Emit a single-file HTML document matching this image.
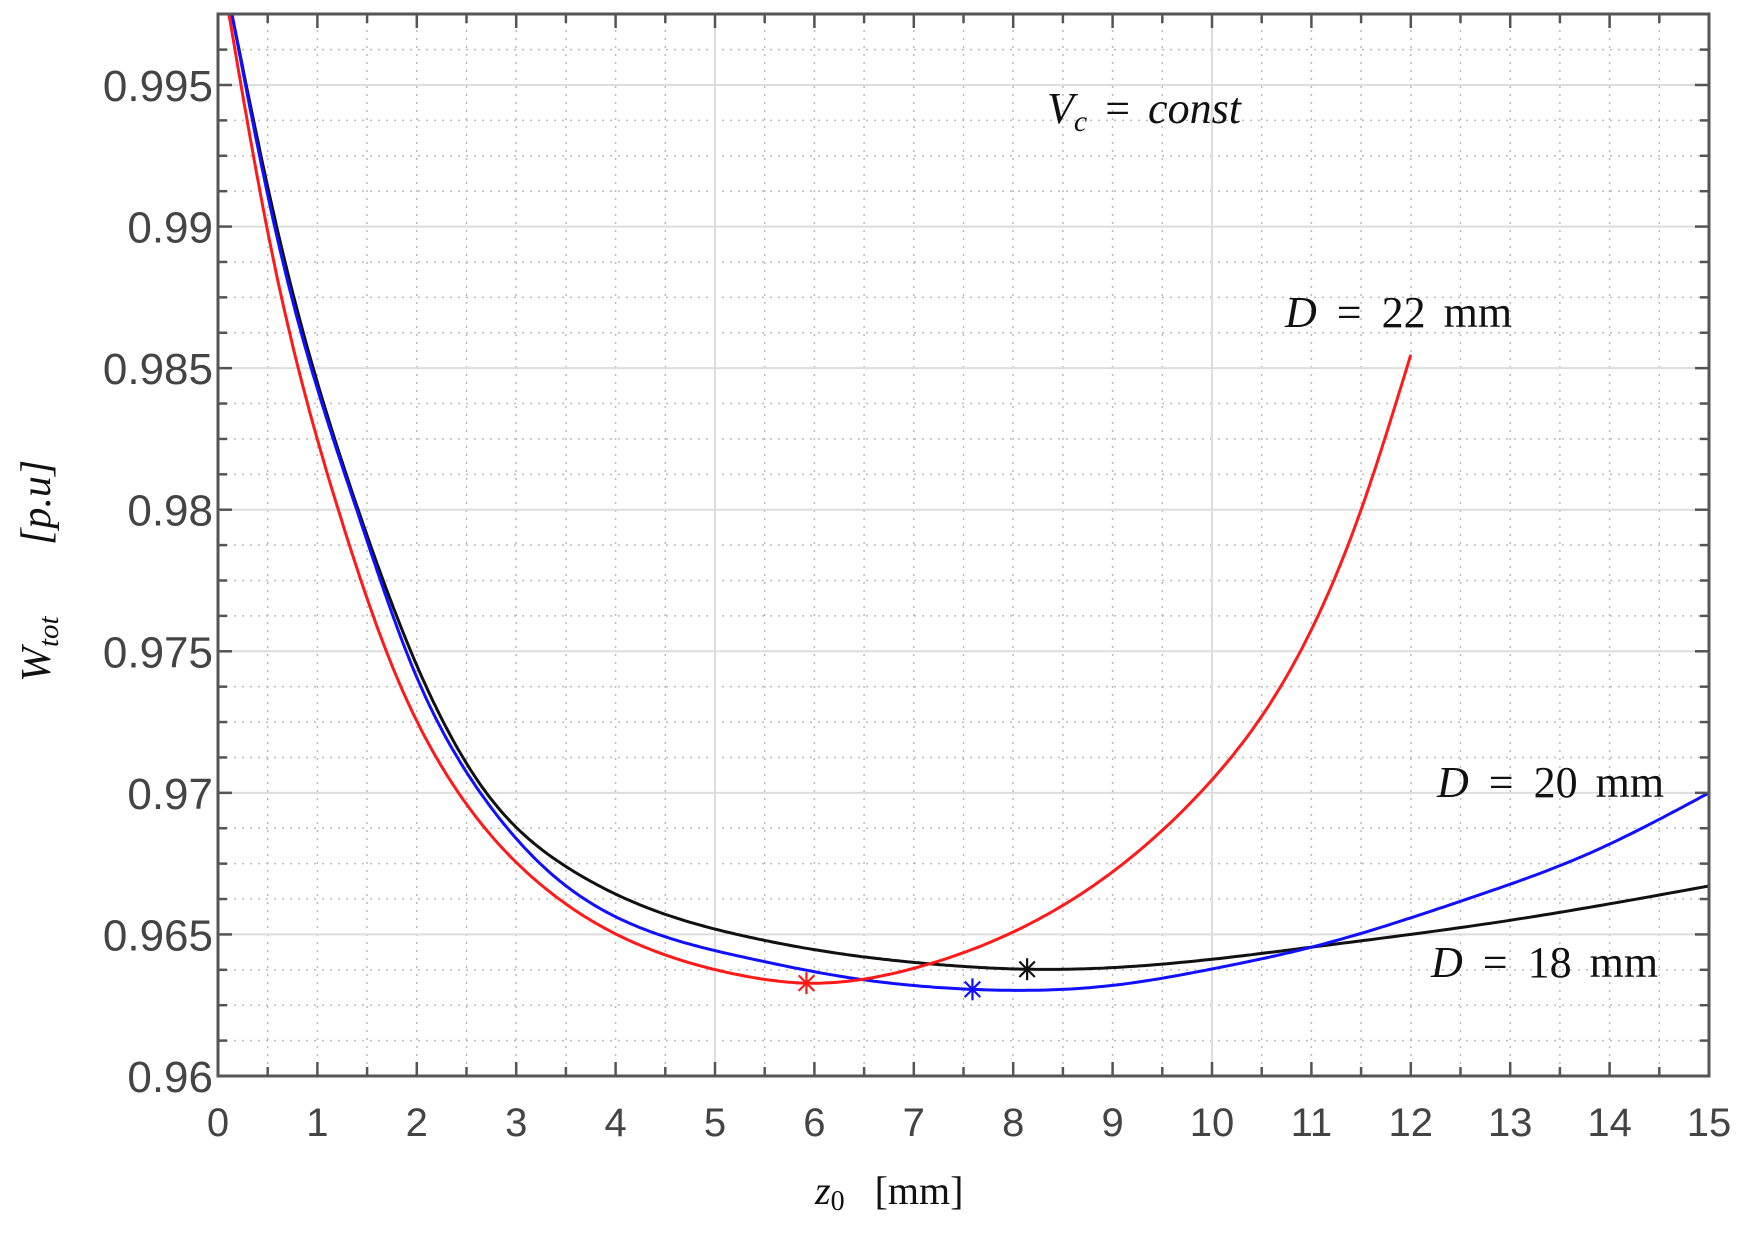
<!DOCTYPE html>
<html><head><meta charset="utf-8"><style>
html,body{margin:0;padding:0;background:#fff;}
svg{display:block;}
</style></head><body>
<svg id="s" width="1749" height="1234" xmlns="http://www.w3.org/2000/svg">
<rect width="1749" height="1234" fill="#fff"/>
<g id="grid"></g>
<g id="curves" fill="none" stroke-width="3"></g>
<g id="axes"></g>
<g font-family="Liberation Serif, serif" font-size="44" fill="#111">
<text x="1047" y="123"><tspan font-style="italic">V</tspan><tspan font-style="italic" font-size="30" dy="8">c</tspan><tspan dy="-8" dx="18">=</tspan><tspan dx="18" font-style="italic">const</tspan></text>
<text x="1285" y="327"><tspan font-style="italic">D</tspan><tspan dx="20">=</tspan><tspan dx="20">22</tspan><tspan dx="18">mm</tspan></text>
<text x="1437" y="797"><tspan font-style="italic">D</tspan><tspan dx="20">=</tspan><tspan dx="20">20</tspan><tspan dx="18">mm</tspan></text>
<text x="1431" y="977"><tspan font-style="italic">D</tspan><tspan dx="20">=</tspan><tspan dx="20">18</tspan><tspan dx="18">mm</tspan></text>
<text x="815" y="1204" font-size="40"><tspan font-style="italic">z</tspan><tspan font-size="28" dy="6">0</tspan><tspan dy="-6" dx="30">[mm]</tspan></text>
<g transform="translate(50,682) rotate(-90)" font-size="42">
<text x="0" y="0"><tspan font-style="italic">W</tspan><tspan font-style="italic" font-size="29" dy="8">tot</tspan></text>
<text x="137" y="0" font-style="italic">[p.u]</text>
</g>
</g>
</svg>
<script>
var NS="http://www.w3.org/2000/svg";
var X0=218,X1=1709,Y0=14,Y1=1076;
function px(x){return X0+x*(X1-X0)/15;}
function py(v){return 85+(0.995-v)/0.005*141.57;}
function el(p,t,a){var e=document.createElementNS(NS,t);for(var k in a)e.setAttribute(k,a[k]);p.appendChild(e);return e;}
var g=document.getElementById('grid'),ax=document.getElementById('axes'),cv=document.getElementById('curves');
for(var i=1;i<30;i++){var x=px(i*0.5);if(i%10)el(g,'line',{x1:x,x2:x,y1:Y0,y2:Y1,stroke:'#bbb','stroke-width':1.5,'stroke-dasharray':'2 6'});}
for(var k=1;k<30;k++){var v=0.96+k*0.00125;if(v>0.9976)break;var y=py(v);if(k%4)el(g,'line',{x1:X0,x2:X1,y1:y,y2:y,stroke:'#bbb','stroke-width':1.5,'stroke-dasharray':'2 6'});}
[5,10].forEach(function(m){var x=px(m);el(g,'line',{x1:x,x2:x,y1:Y0,y2:Y1,stroke:'#ddd','stroke-width':2});});
for(var k=1;k<8;k++){var y=py(0.96+k*0.005);el(g,'line',{x1:X0,x2:X1,y1:y,y2:y,stroke:'#ddd','stroke-width':2});}
function spline(pts){var n=pts.length,x=pts.map(p=>p[0]),y=pts.map(p=>p[1]);
var h=[],al=[],l=[1],mu=[0],z=[0],c=new Array(n).fill(0),b=[],d=[];
for(var i=0;i<n-1;i++)h[i]=x[i+1]-x[i];
for(var i=1;i<n-1;i++)al[i]=3/h[i]*(y[i+1]-y[i])-3/h[i-1]*(y[i]-y[i-1]);
for(var i=1;i<n-1;i++){l[i]=2*(x[i+1]-x[i-1])-h[i-1]*mu[i-1];mu[i]=h[i]/l[i];z[i]=(al[i]-h[i-1]*z[i-1])/l[i];}
for(var j=n-2;j>=0;j--){c[j]=(j>0?z[j]:0)-mu[j]*c[j+1];b[j]=(y[j+1]-y[j])/h[j]-h[j]*(c[j+1]+2*c[j])/3;d[j]=(c[j+1]-c[j])/(3*h[j]);}
var out=[];for(var i=0;i<n-1;i++){for(var k=0;k<30;k++){var t=k/30*h[i];out.push([x[i]+t,y[i]+b[i]*t+c[i]*t*t+d[i]*t*t*t]);}}
out.push([x[n-1],y[n-1]]);return out;}
function draw(pts,col){var o=spline(pts);var s='M'+o.map(p=>px(p[0]).toFixed(1)+','+py(p[1]).toFixed(1)).join('L');el(cv,'path',{d:s,stroke:col});}
var red=[[0.11,0.9975],[0.49,0.99],[1.21,0.98],[1.75,0.9745],[2.42,0.97],[3.2,0.9669],[4.35,0.96447],[5.2,0.9636],[5.92,0.96328],[7.09,0.96389],[8.37,0.96576],[9.88,0.9700],[11.5,0.9800],[12,0.98547]];
var blue=[[0.14,0.9975],[0.57,0.99],[1.395,0.98],[1.95,0.9745],[2.64,0.97],[3.4,0.9670],[4.35,0.9651],[5.35,0.96415],[6.3,0.9635],[7.59,0.96306],[9,0.9632],[10,0.96378],[11,0.96455],[12.6,0.96629],[13.8,0.96787],[15,0.970]];
var black=[[0.14,0.9975],[0.59,0.99],[1.41,0.98],[2.0,0.9745],[2.70,0.97],[3.5,0.9674],[4.35,0.9659],[5.35,0.9649],[6.3,0.9643],[7.2,0.96395],[8.14,0.96377],[9.5,0.96395],[11,0.96455],[13,0.9655],[15,0.96671]];
draw(black,'#111');draw(blue,'#1010ff');draw(red,'#ff1a1a');
function star(x,v,col){var cx=px(x),cy=py(v),r=11;for(var a=0;a<4;a++){var t=a*Math.PI/4;el(cv,'line',{x1:cx-r*Math.cos(t),y1:cy-r*Math.sin(t),x2:cx+r*Math.cos(t),y2:cy+r*Math.sin(t),stroke:col,'stroke-width':2.2});}}
star(5.92,0.96328,'#ff1a1a');star(7.59,0.96306,'#1010ff');star(8.14,0.96377,'#111');
el(ax,'rect',{x:X0,y:Y0,width:X1-X0,height:Y1-Y0,fill:'none',stroke:'#555','stroke-width':3});
for(var i=0;i<=30;i++){var x=px(i*0.5),L=(i%2==0)?14:9;el(ax,'line',{x1:x,x2:x,y1:Y1,y2:Y1-L,stroke:'#555','stroke-width':2.5});el(ax,'line',{x1:x,x2:x,y1:Y0,y2:Y0+L,stroke:'#555','stroke-width':2.5});
if(i%2==0){var t=el(ax,'text',{x:x,y:1136,'text-anchor':'middle','font-family':'Liberation Sans, sans-serif','font-size':40,fill:'#444'});t.textContent=i/2;}}
for(var k=0;k<=29;k++){var v=0.96+k*0.00125;if(v>0.9976)break;var y=py(v),maj=(k%4==0),L=maj?14:9;
el(ax,'line',{x1:X0,x2:X0+L,y1:y,y2:y,stroke:'#555','stroke-width':2.5});el(ax,'line',{x1:X1,x2:X1-L,y1:y,y2:y,stroke:'#555','stroke-width':2.5});
if(maj){var t=el(ax,'text',{x:213,y:y+16,'text-anchor':'end','font-family':'Liberation Sans, sans-serif','font-size':44,fill:'#444'});t.textContent=['0.96','0.965','0.97','0.975','0.98','0.985','0.99','0.995'][k/4];}}
</script>
</body></html>
